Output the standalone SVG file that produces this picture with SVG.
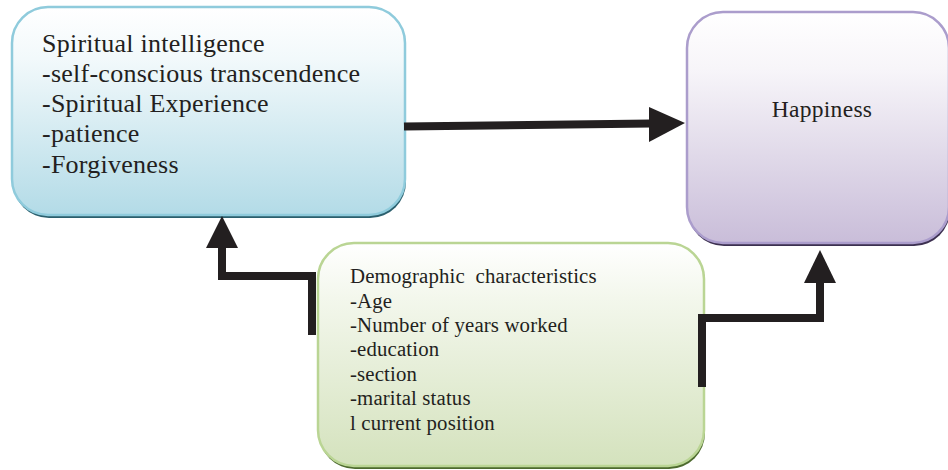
<svg xmlns="http://www.w3.org/2000/svg" width="948" height="470" viewBox="0 0 948 470">
<defs>
<linearGradient id="gBlue" x1="0" y1="0" x2="0" y2="1">
<stop offset="0" stop-color="#ffffff"/><stop offset="0.25" stop-color="#f2f9fb"/><stop offset="1" stop-color="#b3dbe7"/>
</linearGradient>
<linearGradient id="gPurple" x1="0" y1="0" x2="0" y2="1">
<stop offset="0" stop-color="#ffffff"/><stop offset="0.25" stop-color="#f7f5f9"/><stop offset="1" stop-color="#c9bdd9"/>
</linearGradient>
<linearGradient id="gGreen" x1="0" y1="0" x2="0" y2="1">
<stop offset="0" stop-color="#ffffff"/><stop offset="0.25" stop-color="#f3f7ec"/><stop offset="1" stop-color="#d4e2bd"/>
</linearGradient>
</defs>
<style>
.t{fill:#231f20}
.conn{fill:none;stroke:#231f20;stroke-width:8;stroke-linejoin:miter;stroke-linecap:butt}
.head{fill:#231f20}
</style>
<rect width="948" height="470" fill="#ffffff"/>
<g id="node-spiritual" font-family="Liberation Serif, serif">
<rect x="13" y="10" width="393" height="208" rx="36" fill="#2b5f6d"/>
<rect x="12" y="7" width="393" height="208" rx="36" fill="url(#gBlue)" stroke="#8fcbdc" stroke-width="2.5"/>
<g class="t" font-size="26" letter-spacing="0.25">
<text x="42" y="52">Spiritual intelligence</text>
<text x="42" y="82">-self-conscious transcendence</text>
<text x="42" y="112">-Spiritual Experience</text>
<text x="42" y="142">-patience</text>
<text x="42" y="173">-Forgiveness</text>
</g>
</g>
<g id="node-happiness" font-family="Liberation Serif, serif">
<rect x="688" y="15" width="262" height="231" rx="36" fill="#3c3050"/>
<rect x="687" y="12" width="262" height="231" rx="36" fill="url(#gPurple)" stroke="#ab9dcc" stroke-width="2.5"/>
<text class="t" font-size="23.5" letter-spacing="0.3" x="822" y="117" text-anchor="middle">Happiness</text>
</g>
<g id="node-demographic" font-family="Liberation Serif, serif">
<rect x="319" y="246" width="386" height="223" rx="36" fill="#4d6a2e"/>
<rect x="318" y="243" width="386" height="223" rx="36" fill="url(#gGreen)" stroke="#bad594" stroke-width="2.5"/>
<g class="t" font-size="20.8" letter-spacing="0.15">
<text x="350" y="283" xml:space="preserve">Demographic  characteristics</text>
<text x="350" y="308">-Age</text>
<text x="350" y="332">-Number of years worked</text>
<text x="350" y="356">-education</text>
<text x="350" y="381">-section</text>
<text x="350" y="405">-marital status</text>
<text x="350" y="430">l current position</text>
</g>
</g>
<g id="connectors">
<path class="conn" d="M404,126.5 L651,123.5"/>
<polygon class="head" points="649,107 685,123 649,142"/>
<path class="conn" d="M312,335 L312,276 L222,276 L222,246"/>
<polygon class="head" points="206,248 222,216 238,248"/>
<path class="conn" d="M702,387 L702,318 L820,318 L820,281"/>
<polygon class="head" points="804,283 820,250 836,283"/>
</g>
</svg>
